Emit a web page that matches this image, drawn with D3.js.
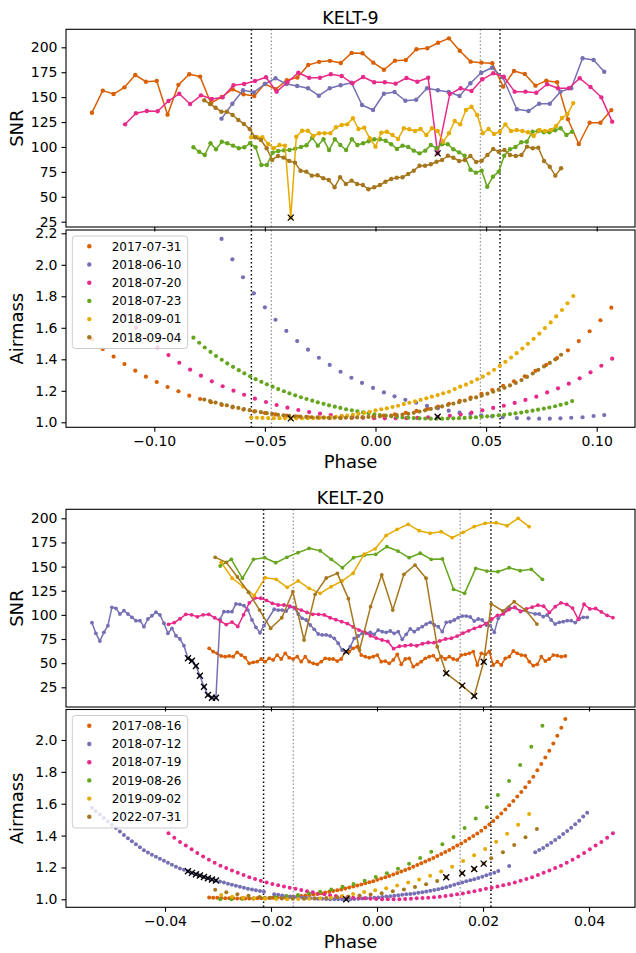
<!DOCTYPE html>
<html><head><meta charset="utf-8">
<script src="https://cdn.jsdelivr.net/npm/d3@7"></script>
<style>body{margin:0;background:#fff}svg{display:block}</style>
</head><body><svg id="c" width="636" height="953"></svg>
<script>
// ---------------- DATA ----------------
const colors = ["#d95f02","#7570b3","#e7298a","#66a61e","#e6ab02","#a6761d"];
const k9Dates = ["2017-07-31","2018-06-10","2018-07-20","2018-07-23","2018-09-01","2018-09-04"];
const k20Dates = ["2017-08-16","2018-07-12","2018-07-19","2019-08-26","2019-09-02","2022-07-31"];

const k9PhaseTicks = [-0.10,-0.05,0.00,0.05,0.10];
const k20PhaseTicks = [-0.04,-0.02,0.00,0.02,0.04];
const snrTicks = [25,50,75,100,125,150,175,200];
const k9AirmassTicks = [1.0,1.2,1.4,1.6,1.8,2.0,2.2];
const k20AirmassTicks = [1.0,1.2,1.4,1.6,1.8,2.0];

const k9ContactOuter = [-0.0561,0.0563];
const k9ContactInner = [-0.0471,0.0474];
const k20ContactOuter = [-0.0214,0.0215];
const k20ContactInner = [-0.0158,0.0157];

// KELT-9
const k9_20170731_phase = [-0.1282,-0.1233,-0.1184,-0.1135,-0.1086,-0.1038,-0.0989,-0.0940,-0.0891,-0.0842,-0.0793,-0.0744,-0.0695,-0.0646,-0.0597,-0.0548,-0.0500,-0.0451,-0.0401,-0.0353,-0.0304,-0.0255,-0.0206,-0.0157,-0.0108,-0.0059,-0.0010,0.0038,0.0088,0.0137,0.0185,0.0234,0.0283,0.0332,0.0381,0.0430,0.0479,0.0528,0.0577,0.0626,0.0675,0.0723,0.0772,0.0821,0.0870,0.0919,0.0968,0.1017,0.1066];
const k9_20170731_snr = [134.4,156.5,153.1,159.8,172.2,165.5,166.2,132.4,162.3,173.0,170.6,143.9,150.2,157.9,152.9,151.2,163.3,157.9,167.0,169.7,182.3,185.4,186.4,184.3,194.4,194.0,184.6,177.5,186.6,187.3,198.0,199.0,204.6,209.0,196.6,185.6,184.6,184.0,160.5,176.2,173.2,161.5,166.5,164.9,127.8,103.0,124.3,124.3,137.0];
const k9_20170731_airmass = [1.527,1.465,1.417,1.370,1.328,1.290,1.256,1.224,1.197,1.169,1.148,1.128,1.110,1.095,1.081,1.069,1.059,1.050,1.042,1.036,1.032,1.029,1.027,1.027,1.028,1.031,1.036,1.042,1.050,1.060,1.072,1.085,1.100,1.117,1.136,1.157,1.180,1.205,1.231,1.260,1.292,1.327,1.365,1.408,1.457,1.516,1.578,1.648,1.728];
const k9_20170731_flag = [];

const k9_20180610_phase = [-0.0696,-0.0647,-0.0599,-0.0550,-0.0500,-0.0452,-0.0403,-0.0354,-0.0305,-0.0256,-0.0207,-0.0158,-0.0109,-0.0061,-0.0011,0.0038,0.0086,0.0135,0.0184,0.0233,0.0282,0.0331,0.0380,0.0429,0.0478,0.0527,0.0575,0.0639,0.0692,0.0740,0.0788,0.0836,0.0885,0.0936,0.0986,0.1034];
const k9_20180610_snr = [128.4,143.4,156.9,154.8,163.2,168.9,163.2,161.2,158.9,151.4,158.9,161.9,164.5,142.1,137.1,153.4,155.1,146.4,147.4,158.9,156.9,155.1,151.1,163.9,174.5,179.5,170.0,137.8,136.1,143.4,143.4,155.5,158.9,189.0,187.3,175.5];
const k9_20180610_airmass = [2.164,2.035,1.921,1.819,1.730,1.651,1.580,1.516,1.461,1.410,1.364,1.321,1.283,1.250,1.218,1.190,1.165,1.143,1.124,1.105,1.089,1.074,1.061,1.053,1.044,1.038,1.032,1.027,1.025,1.023,1.023,1.025,1.029,1.032,1.040,1.046];
const k9_20180610_flag = [];

const k9_20180720_phase = [-0.1132,-0.1083,-0.1034,-0.0985,-0.0936,-0.0887,-0.0838,-0.0789,-0.0740,-0.0691,-0.0642,-0.0594,-0.0545,-0.0495,-0.0447,-0.0398,-0.0349,-0.0300,-0.0251,-0.0202,-0.0153,-0.0104,-0.0056,-0.0006,0.0042,0.0091,0.0140,0.0189,0.0238,0.0281,0.0336,0.0385,0.0434,0.0483,0.0532,0.0580,0.0629,0.0678,0.0727,0.0776,0.0825,0.0874,0.0923,0.0972,0.1021,0.1070];
const k9_20180720_snr = [122.7,133.8,136.1,135.8,146.1,153.4,143.1,151.8,148.1,149.8,161.9,163.2,166.2,169.9,155.5,164.9,174.5,169.5,169.5,172.9,171.2,163.9,170.2,164.9,164.9,163.5,169.2,165.5,169.5,93.6,153.1,158.9,156.2,167.9,173.9,170.5,155.5,155.5,154.4,162.9,158.9,158.9,168.9,160.2,149.8,125.4];
const k9_20180720_airmass = [1.677,1.601,1.533,1.476,1.427,1.378,1.334,1.296,1.260,1.229,1.201,1.175,1.150,1.129,1.110,1.093,1.078,1.065,1.055,1.046,1.039,1.033,1.029,1.026,1.025,1.025,1.026,1.028,1.031,1.035,1.041,1.049,1.061,1.076,1.091,1.105,1.123,1.142,1.163,1.190,1.216,1.245,1.279,1.317,1.359,1.404];
const k9_20180720_flag = [29];

const k9_20180723_phase = [-0.0823,-0.0797,-0.0772,-0.0746,-0.0721,-0.0695,-0.0670,-0.0644,-0.0618,-0.0593,-0.0567,-0.0542,-0.0516,-0.0491,-0.0465,-0.0440,-0.0414,-0.0389,-0.0363,-0.0337,-0.0312,-0.0286,-0.0261,-0.0235,-0.0210,-0.0184,-0.0159,-0.0133,-0.0107,-0.0082,-0.0056,-0.0031,-0.0005,0.0020,0.0046,0.0071,0.0097,0.0122,0.0148,0.0173,0.0199,0.0225,0.0250,0.0276,0.0301,0.0327,0.0352,0.0378,0.0403,0.0429,0.0454,0.0480,0.0505,0.0531,0.0557,0.0582,0.0608,0.0633,0.0659,0.0684,0.0710,0.0735,0.0761,0.0786,0.0812,0.0837,0.0863,0.0889];
const k9_20180723_snr = [99.7,95.2,91.9,103.7,97.7,105.3,103.7,101.3,98.7,99.7,103.7,99.7,81.9,81.9,94.2,95.9,96.6,96.9,98.3,100.0,101.7,109.3,101.3,107.7,96.9,107.7,102.0,96.9,107.7,102.0,103.7,105.7,107.7,107.7,106.3,102.7,98.0,101.3,100.0,96.3,93.6,96.3,102.0,98.7,102.7,102.7,97.7,94.6,91.2,77.2,74.2,76.2,60.1,70.2,75.2,91.2,97.7,100.0,104.7,105.3,115.3,116.0,114.7,114.7,116.7,118.7,112.0,115.3];
const k9_20180723_airmass = [1.537,1.505,1.475,1.447,1.421,1.397,1.374,1.352,1.331,1.311,1.292,1.274,1.257,1.241,1.226,1.211,1.197,1.184,1.171,1.159,1.148,1.137,1.127,1.117,1.108,1.099,1.091,1.083,1.076,1.069,1.063,1.057,1.051,1.046,1.042,1.038,1.034,1.031,1.029,1.027,1.025,1.024,1.023,1.023,1.023,1.024,1.025,1.026,1.028,1.030,1.032,1.035,1.038,1.041,1.044,1.048,1.052,1.057,1.062,1.068,1.074,1.080,1.087,1.094,1.102,1.111,1.120,1.135];
const k9_20180723_flag = [];

const k9_20180901_phase = [-0.0562,-0.0536,-0.0511,-0.0485,-0.0460,-0.0434,-0.0409,-0.0383,-0.0358,-0.0332,-0.0306,-0.0281,-0.0255,-0.0230,-0.0204,-0.0179,-0.0153,-0.0128,-0.0102,-0.0077,-0.0051,-0.0026,0.0000,0.0026,0.0051,0.0077,0.0102,0.0128,0.0153,0.0179,0.0204,0.0230,0.0255,0.0281,0.0306,0.0332,0.0358,0.0383,0.0409,0.0434,0.0460,0.0485,0.0511,0.0536,0.0562,0.0587,0.0613,0.0638,0.0664,0.0689,0.0715,0.0741,0.0766,0.0792,0.0817,0.0843,0.0868,0.0894];
const k9_20180901_snr = [109.7,109.7,109.7,103.0,98.7,102.0,101.3,29.1,110.3,116.3,116.3,111.0,113.7,113.7,113.7,119.7,122.0,122.7,128.8,118.0,119.3,108.7,100.3,114.3,115.3,112.0,108.0,118.7,117.7,116.0,118.0,112.0,118.7,116.0,105.3,113.7,126.0,122.7,137.1,140.4,132.1,113.7,118.0,113.0,115.3,122.7,116.0,117.0,116.0,114.7,111.0,117.0,116.0,117.0,121.0,129.0,133.0,144.0];
const k9_20180901_airmass = [1.030,1.029,1.028,1.027,1.026,1.026,1.025,1.025,1.025,1.025,1.026,1.027,1.028,1.030,1.032,1.035,1.039,1.043,1.048,1.054,1.060,1.067,1.076,1.083,1.089,1.097,1.105,1.116,1.124,1.133,1.142,1.152,1.163,1.173,1.184,1.194,1.211,1.226,1.239,1.256,1.273,1.290,1.310,1.333,1.358,1.384,1.411,1.439,1.468,1.498,1.530,1.563,1.598,1.634,1.672,1.713,1.756,1.802];
const k9_20180901_flag = [7];

const k9_20180904_phase = [-0.0774,-0.0748,-0.0723,-0.0697,-0.0672,-0.0646,-0.0620,-0.0595,-0.0569,-0.0544,-0.0518,-0.0492,-0.0467,-0.0441,-0.0416,-0.0390,-0.0364,-0.0339,-0.0313,-0.0288,-0.0262,-0.0236,-0.0211,-0.0185,-0.0160,-0.0134,-0.0108,-0.0083,-0.0057,-0.0032,-0.0006,0.0020,0.0045,0.0071,0.0096,0.0122,0.0148,0.0173,0.0199,0.0224,0.0250,0.0276,0.0301,0.0327,0.0352,0.0378,0.0404,0.0429,0.0455,0.0480,0.0506,0.0532,0.0557,0.0583,0.0608,0.0634,0.0660,0.0685,0.0711,0.0736,0.0762,0.0788,0.0813,0.0839];
const k9_20180904_snr = [146.8,143.1,139.4,135.4,135.4,132.1,127.1,123.1,118.0,109.7,107.0,98.7,87.0,91.0,89.3,86.0,84.3,76.2,75.2,71.2,71.6,68.6,66.9,59.5,69.6,62.9,66.2,62.9,61.8,57.5,59.5,61.8,65.1,67.9,69.2,69.6,72.9,76.2,81.1,81.1,82.6,85.2,86.9,91.2,89.2,85.9,86.9,90.9,84.9,86.2,91.9,98.0,95.2,96.9,91.9,90.9,91.9,100.3,98.7,99.3,85.9,80.2,71.2,78.6];
const k9_20180904_airmass = [1.144,1.135,1.125,1.116,1.108,1.099,1.091,1.084,1.077,1.070,1.064,1.058,1.053,1.048,1.044,1.041,1.038,1.036,1.034,1.032,1.031,1.030,1.029,1.029,1.029,1.029,1.030,1.031,1.032,1.034,1.036,1.038,1.040,1.043,1.046,1.049,1.054,1.060,1.068,1.076,1.085,1.093,1.101,1.110,1.119,1.128,1.138,1.148,1.158,1.170,1.182,1.194,1.207,1.219,1.234,1.250,1.268,1.288,1.310,1.333,1.355,1.377,1.400,1.429];
const k9_20180904_flag = [];

// KELT-20
const k20_20170816_phase = [-0.03166,-0.03091,-0.03015,-0.02940,-0.02864,-0.02789,-0.02713,-0.02638,-0.02562,-0.02487,-0.02411,-0.02336,-0.02260,-0.02185,-0.02109,-0.02034,-0.01958,-0.01883,-0.01807,-0.01732,-0.01656,-0.01581,-0.01505,-0.01430,-0.01354,-0.01279,-0.01203,-0.01128,-0.01052,-0.00977,-0.00901,-0.00826,-0.00750,-0.00675,-0.00599,-0.00524,-0.00448,-0.00373,-0.00297,-0.00222,-0.00146,-0.00071,0.00005,0.00080,0.00156,0.00231,0.00307,0.00382,0.00458,0.00533,0.00609,0.00684,0.00760,0.00835,0.00911,0.00986,0.01062,0.01137,0.01213,0.01288,0.01364,0.01439,0.01515,0.01590,0.01666,0.01741,0.01817,0.01892,0.01968,0.02043,0.02119,0.02194,0.02270,0.02345,0.02421,0.02496,0.02572,0.02647,0.02723,0.02798,0.02874,0.02949,0.03025,0.03100,0.03176,0.03251,0.03327,0.03402,0.03478,0.03553];
const k20_20170816_snr = [65.4,61.9,60.2,57.4,56.7,57.4,56.7,61.2,58.4,55.7,49.8,50.9,51.5,54.3,51.5,55.0,53.3,58.4,54.3,60.2,55.7,54.3,56.7,51.5,56.7,51.5,49.8,48.8,51.5,55.0,54.3,54.3,52.2,54.3,61.9,61.9,65.4,67.0,58.4,56.7,55.7,56.7,58.4,51.5,52.2,49.8,53.3,59.1,48.8,54.3,55.0,46.4,48.8,51.5,55.0,56.7,57.7,53.3,56.7,54.3,56.7,54.3,53.3,58.4,59.1,60.2,61.9,48.1,60.2,59.1,61.9,48.1,51.5,48.1,55.0,56.7,62.6,60.2,58.4,57.7,51.5,47.4,48.8,56.7,52.2,54.3,58.4,57.7,56.7,57.4];
const k20_20170816_airmass = [1.012,1.010,1.009,1.008,1.007,1.006,1.006,1.005,1.005,1.005,1.005,1.005,1.006,1.006,1.007,1.008,1.009,1.010,1.011,1.012,1.014,1.016,1.018,1.021,1.024,1.027,1.030,1.034,1.038,1.042,1.047,1.052,1.057,1.062,1.068,1.074,1.080,1.086,1.093,1.100,1.107,1.114,1.122,1.130,1.138,1.147,1.156,1.165,1.174,1.184,1.194,1.204,1.215,1.226,1.237,1.248,1.260,1.272,1.284,1.297,1.310,1.323,1.337,1.351,1.366,1.381,1.397,1.413,1.430,1.450,1.470,1.492,1.515,1.539,1.564,1.590,1.617,1.645,1.674,1.704,1.736,1.770,1.810,1.849,1.890,1.933,1.978,2.026,2.077,2.132];
const k20_20170816_flag = [];

const k20_20180712_phase = [-0.05379,-0.05304,-0.05228,-0.05153,-0.05077,-0.05002,-0.04926,-0.04851,-0.04775,-0.04700,-0.04624,-0.04549,-0.04473,-0.04398,-0.04322,-0.04247,-0.04171,-0.04096,-0.04020,-0.03945,-0.03869,-0.03794,-0.03718,-0.03643,-0.03567,-0.03492,-0.03416,-0.03341,-0.03265,-0.03190,-0.03114,-0.03039,-0.02963,-0.02888,-0.02812,-0.02737,-0.02661,-0.02586,-0.02510,-0.02435,-0.02359,-0.02284,-0.02208,-0.02133,
-0.01940,-0.01864,-0.01789,-0.01713,-0.01638,-0.01562,-0.01487,-0.01411,-0.01336,-0.01260,-0.01185,-0.01109,-0.01034,-0.00958,-0.00883,-0.00807,-0.00732,-0.00656,-0.00581,-0.00505,-0.00430,-0.00354,-0.00279,-0.00203,-0.00128,-0.00052,0.00023,0.00099,0.00174,0.00250,0.00325,0.00401,0.00476,0.00552,0.00627,0.00703,0.00778,0.00854,0.00929,0.01005,0.01080,0.01156,0.01231,0.01307,0.01382,0.01458,0.01533,0.01609,0.01684,0.01760,0.01835,0.01911,0.01986,0.02062,0.02137,0.02213,0.02288,
0.02494,
0.02985,0.03060,0.03136,0.03211,0.03287,0.03362,0.03438,0.03513,0.03589,0.03664,0.03740,0.03815,0.03891,0.03966];
const k20_20180712_snr = [91.9,80.9,72.9,81.9,88.8,107.8,106.8,100.9,104.3,100.9,97.5,94.0,94.0,87.8,95.7,99.1,102.7,99.9,91.3,80.9,86.1,78.4,75.0,68.1,55.0,52.5,47.1,37.0,25.6,17.0,14.2,14.2,95.4,103.3,103.3,103.3,111.3,110.9,109.5,105.0,94.7,87.1,81.5,88.8,
105.8,105.0,105.0,104.0,108.5,107.4,100.9,96.4,94.7,89.5,85.0,80.2,79.2,79.2,78.1,75.7,70.6,63.6,61.9,67.0,75.7,78.1,80.9,80.9,81.9,79.9,84.3,82.6,81.9,83.3,80.9,82.6,74.7,79.9,85.4,82.6,85.4,87.8,90.5,92.3,89.5,87.8,82.6,92.3,92.9,94.7,97.1,98.8,98.8,97.8,93.6,95.7,94.7,89.5,88.8,81.9,96.4,
108.0,
101.0,100.9,98.1,99.9,94.7,90.5,92.3,93.0,94.0,94.0,92.0,96.0,97.5,97.5];
const k20_20180712_airmass = [1.575,1.553,1.532,1.510,1.488,1.468,1.447,1.425,1.404,1.383,1.364,1.345,1.326,1.308,1.294,1.280,1.267,1.254,1.242,1.229,1.217,1.204,1.194,1.185,1.176,1.166,1.157,1.149,1.140,1.132,1.124,1.118,1.111,1.105,1.098,1.092,1.085,1.079,1.072,1.067,1.062,1.057,1.052,1.047,
1.032,1.028,1.024,1.021,1.018,1.015,1.013,1.011,1.009,1.007,1.005,1.004,1.003,1.002,1.001,1.001,1.000,1.000,1.000,1.001,1.002,1.003,1.005,1.006,1.008,1.010,1.012,1.014,1.017,1.019,1.022,1.025,1.028,1.031,1.034,1.037,1.041,1.045,1.049,1.053,1.058,1.063,1.069,1.075,1.083,1.091,1.099,1.106,1.113,1.119,1.126,1.134,1.142,1.151,1.159,1.167,1.178,
1.209,
1.295,1.309,1.322,1.339,1.355,1.372,1.389,1.410,1.429,1.449,1.471,1.493,1.519,1.544];
const k20_20180712_flag = [24,25,26,27,28,29,30,31,62];

const k20_20180719_phase = [-0.03934,-0.03825,-0.03716,-0.03607,-0.03498,-0.03390,-0.03281,-0.03172,-0.03063,-0.02954,-0.02845,-0.02736,-0.02627,-0.02518,-0.02409,-0.02301,-0.02192,-0.02083,-0.01974,-0.01865,-0.01756,-0.01647,-0.01538,-0.01429,-0.01320,-0.01212,-0.01103,-0.00994,-0.00885,-0.00776,-0.00667,-0.00558,-0.00449,-0.00340,-0.00231,-0.00123,-0.00014,0.00095,0.00204,0.00313,0.00422,0.00531,0.00640,0.00749,0.00858,0.00966,0.01075,0.01184,0.01293,0.01402,0.01511,0.01620,0.01729,0.01838,0.01947,0.02055,0.02164,0.02273,0.02382,0.02491,0.02600,0.02709,0.02818,0.02927,0.03036,0.03144,0.03253,0.03362,0.03471,0.03580,0.03689,0.03798,0.03907,0.04016,0.04125,0.04233,0.04342,0.04451];
const k20_20180719_snr = [90.2,92.0,96.0,100.6,100.0,98.0,100.0,100.5,97.0,93.6,90.0,92.5,88.0,100.0,112.5,117.5,117.2,115.0,112.0,110.2,110.2,109.0,107.0,105.0,102.5,100.6,100.6,99.9,97.0,95.0,93.0,91.0,87.5,84.3,82.0,78.4,76.0,74.0,72.5,65.0,67.5,68.0,68.8,68.0,70.1,71.4,71.2,73.0,75.0,75.8,78.0,81.0,83.5,86.1,88.0,91.0,95.5,99.5,101.0,105.5,108.0,103.4,106.1,108.0,110.0,109.0,102.5,108.5,112.5,110.8,107.0,95.4,111.0,106.2,106.6,103.0,99.5,97.1];
const k20_20180719_airmass = [1.414,1.386,1.360,1.337,1.314,1.291,1.269,1.249,1.230,1.211,1.196,1.181,1.166,1.152,1.139,1.128,1.116,1.106,1.096,1.088,1.080,1.073,1.066,1.058,1.051,1.044,1.037,1.031,1.026,1.021,1.016,1.013,1.010,1.008,1.006,1.004,1.002,1.001,1.000,1.000,1.001,1.002,1.004,1.006,1.008,1.010,1.013,1.016,1.021,1.026,1.031,1.037,1.044,1.051,1.058,1.066,1.073,1.080,1.088,1.096,1.106,1.116,1.128,1.139,1.152,1.166,1.181,1.196,1.211,1.230,1.249,1.269,1.291,1.314,1.337,1.360,1.386,1.414];
const k20_20180719_flag = [];

const k20_20190826_phase = [-0.02958,-0.02749,-0.02539,-0.02330,-0.02120,-0.01910,-0.01701,-0.01491,-0.01281,-0.01072,-0.00862,-0.00652,-0.00443,-0.00233,-0.00024,0.00186,0.00396,0.00605,0.00815,0.01024,0.01234,0.01444,0.01653,0.01863,0.02073,0.02282,0.02492,0.02701,0.02911,0.03121];
const k20_20190826_snr = [150.6,157.5,137.9,157.5,159.2,154.0,159.6,164.4,168.9,166.4,157.5,148.8,159.2,162.0,162.7,170.6,166.1,159.2,163.8,157.5,157.9,126.5,122.3,148.2,145.4,144.7,148.8,145.7,147.2,136.8];
const k20_20190826_airmass = [1.001,1.001,1.003,1.005,1.008,1.013,1.019,1.027,1.037,1.048,1.062,1.079,1.096,1.117,1.140,1.163,1.192,1.223,1.259,1.299,1.345,1.391,1.448,1.508,1.578,1.655,1.743,1.843,1.958,2.090];
const k20_20190826_flag = [];

const k20_20190902_phase = [-0.02940,-0.02732,-0.02525,-0.02317,-0.02110,-0.01902,-0.01695,-0.01487,-0.01279,-0.01072,-0.00865,-0.00657,-0.00450,-0.00242,-0.00035,0.00173,0.00380,0.00588,0.00795,0.01003,0.01210,0.01418,0.01625,0.01833,0.02040,0.02248,0.02455,0.02663,0.02870];
const k20_20190902_snr = [154.4,137.9,129.2,119.9,138.5,136.8,128.5,135.1,127.5,122.3,129.2,135.1,143.1,162.9,168.4,182.3,188.6,193.8,187.2,184.5,186.1,179.9,185.5,191.3,194.8,195.4,192.3,200.0,191.3];
const k20_20190902_airmass = [1.027,1.016,1.010,1.006,1.003,1.002,1.001,1.002,1.004,1.007,1.010,1.020,1.034,1.046,1.057,1.070,1.086,1.106,1.125,1.148,1.175,1.205,1.240,1.276,1.316,1.361,1.411,1.468,1.535];
const k20_20190902_flag = [];

const k20_20220731_phase = [-0.03053,-0.02843,-0.02634,-0.02425,-0.02215,-0.02006,-0.01796,-0.01587,-0.01377,-0.01168,-0.00958,-0.00749,-0.00540,-0.00330,-0.00121,0.00089,0.00298,0.00508,0.00717,0.00926,0.01136,0.01306,0.01608,0.01834,0.02013,0.02155,0.02375,0.02589,0.02802,0.03017];
const k20_20220731_snr = [159.6,154.4,139.2,123.4,105.0,86.1,97.0,124.0,74.0,121.3,138.2,143.0,116.8,63.6,108.5,141.3,105.0,142.0,151.6,137.9,67.0,39.5,26.7,16.0,51.5,111.3,104.0,113.6,105.0,90.5];
const k20_20220731_airmass = [1.060,1.044,1.032,1.023,1.015,1.009,1.005,1.003,1.003,1.005,1.008,1.013,1.018,1.024,1.030,1.038,1.050,1.062,1.077,1.094,1.115,1.138,1.163,1.190,1.224,1.257,1.295,1.341,1.389,1.441];
const k20_20220731_flag = [21,22,23,24];

// ---------------- BUILD ----------------
const k9Series = [
  [k9_20170731_phase,k9_20170731_snr,k9_20170731_airmass,k9_20170731_flag],
  [k9_20180610_phase,k9_20180610_snr,k9_20180610_airmass,k9_20180610_flag],
  [k9_20180720_phase,k9_20180720_snr,k9_20180720_airmass,k9_20180720_flag],
  [k9_20180723_phase,k9_20180723_snr,k9_20180723_airmass,k9_20180723_flag],
  [k9_20180901_phase,k9_20180901_snr,k9_20180901_airmass,k9_20180901_flag],
  [k9_20180904_phase,k9_20180904_snr,k9_20180904_airmass,k9_20180904_flag]
].map((a,i)=>({name:k9Dates[i],color:colors[i],phase:a[0],snr:a[1],am:a[2],flag:a[3]}));
const k20Series = [
  [k20_20170816_phase,k20_20170816_snr,k20_20170816_airmass,k20_20170816_flag],
  [k20_20180712_phase,k20_20180712_snr,k20_20180712_airmass,k20_20180712_flag],
  [k20_20180719_phase,k20_20180719_snr,k20_20180719_airmass,k20_20180719_flag],
  [k20_20190826_phase,k20_20190826_snr,k20_20190826_airmass,k20_20190826_flag],
  [k20_20190902_phase,k20_20190902_snr,k20_20190902_airmass,k20_20190902_flag],
  [k20_20220731_phase,k20_20220731_snr,k20_20220731_airmass,k20_20220731_flag]
].map((a,i)=>({name:k20Dates[i],color:colors[i],phase:a[0],snr:a[1],am:a[2],flag:a[3]}));

// ---------------- DRAW ----------------
const FONT = "DejaVu Sans, sans-serif";
const svg = d3.select("#c");
svg.append("rect").attr("width",636).attr("height",953).attr("fill","#fff");
const L = 66, R = 635;

const x9 = d3.scaleLinear().domain([-0.1,0.1]).range([154.3,596.7]);
const x20 = d3.scaleLinear().domain([-0.04,0.04]).range([165,589]);
const phaseFmt = v => (v < -1e-9 ? "\u2212" : "") + Math.abs(v).toFixed(2);

let clipId = 0;
function drawPanel(o) {
  const g = svg.append("g");
  const id = "clip" + (clipId++);
  svg.append("clipPath").attr("id", id).append("rect")
    .attr("x", L).attr("y", o.top).attr("width", R - L).attr("height", o.bottom - o.top);
  const inner = g.append("g").attr("clip-path", `url(#${id})`);

  o.vOuter.forEach(v => inner.append("line").attr("x1", o.x(v)).attr("x2", o.x(v))
    .attr("y1", o.top).attr("y2", o.bottom).attr("stroke", "#000").attr("stroke-width", 1.5)
    .attr("stroke-dasharray", "1.5,2.5"));
  o.vInner.forEach(v => inner.append("line").attr("x1", o.x(v)).attr("x2", o.x(v))
    .attr("y1", o.top).attr("y2", o.bottom).attr("stroke", "#8c8c8c").attr("stroke-width", 1.2)
    .attr("stroke-dasharray", "1.5,2.2"));

  const flagged = [];
  o.series.forEach(s => {
    const pts = s.phase.map((p, i) => ({p, v: o.kind === "snr" ? s.snr[i] : s.am[i], i}));
    if (o.kind === "snr") {
      inner.append("path").datum(pts)
        .attr("d", d3.line().x(d => o.x(d.p)).y(d => o.y(d.v)))
        .attr("fill", "none").attr("stroke", s.color).attr("stroke-width", 1.5)
        .attr("stroke-linejoin", "round");
    }
    inner.selectAll(null).data(pts).join("circle")
      .attr("cx", d => o.x(d.p)).attr("cy", d => o.y(d.v)).attr("r", o.r)
      .attr("fill", s.color);
    s.flag.forEach(i => flagged.push(pts[i]));
  });
  inner.selectAll(null).data(flagged).join("path")
    .attr("transform", d => `translate(${o.x(d.p)},${o.y(d.v)})`)
    .attr("d", "M-3,-3L3,3M-3,3L3,-3").attr("stroke", "#000").attr("stroke-width", 1.3)
    .attr("fill", "none");

  g.append("rect").attr("x", L).attr("y", o.top).attr("width", R - L).attr("height", o.bottom - o.top)
    .attr("fill", "none").attr("stroke", "#000").attr("stroke-width", 1.1);

  const ya = g.append("g").attr("transform", `translate(${L},0)`)
    .call(d3.axisLeft(o.y).tickValues(o.yTicks).tickFormat(o.yFmt).tickSize(4.5).tickPadding(4));
  const xa = g.append("g").attr("transform", `translate(0,${o.bottom})`)
    .call(d3.axisBottom(o.x).tickValues(o.xTicks).tickFormat(o.xLabels ? phaseFmt : "").tickSize(4.5).tickPadding(4));
  [ya, xa].forEach(a => {
    a.select(".domain").remove();
    a.attr("font-size", 14).attr("font-family", FONT);
    a.selectAll("line").attr("stroke", "#000").attr("stroke-width", 1.1);
    a.selectAll("text").attr("fill", "#000");
  });

  g.append("text").attr("transform", `translate(22.5,${(o.top + o.bottom) / 2}) rotate(-90)`)
    .attr("text-anchor", "middle").attr("font-family", FONT).attr("font-size", 18)
    .attr("fill", "#000").text(o.ylabel);
  if (o.xLabels) {
    g.append("text").attr("x", (L + R) / 2).attr("y", o.bottom + 41)
      .attr("text-anchor", "middle").attr("font-family", FONT).attr("font-size", 18)
      .attr("fill", "#000").text("Phase");
  }
  if (o.legend) {
    const lg = g.append("g").attr("transform", `translate(72.3,${o.top + 6})`);
    lg.append("rect").attr("width", 115.4).attr("height", 112.5).attr("rx", 3)
      .attr("fill", "#fff").attr("fill-opacity", 0.8).attr("stroke", "#cccccc").attr("stroke-width", 1);
    o.series.forEach((s, i) => {
      const yy = 10.3 + i * 18.2;
      lg.append("circle").attr("cx", 17).attr("cy", yy).attr("r", 2.2).attr("fill", s.color);
      lg.append("text").attr("x", 39.4).attr("y", yy).attr("dy", "0.35em")
        .attr("font-family", FONT).attr("font-size", 12).attr("fill", "#000").text(s.name);
    });
  }
}

svg.append("text").attr("x", (L + R) / 2).attr("y", 23.5).attr("text-anchor", "middle")
  .attr("font-family", FONT).attr("font-size", 17.5).attr("fill", "#000").text("KELT-9");
svg.append("text").attr("x", (L + R) / 2).attr("y", 503.5).attr("text-anchor", "middle")
  .attr("font-family", FONT).attr("font-size", 17.5).attr("fill", "#000").text("KELT-20");

drawPanel({kind:"snr", series:k9Series, x:x9, top:29.3, bottom:227,
  y:d3.scaleLinear().domain([25,200]).range([221.7,47.3]), yTicks:snrTicks, yFmt:d3.format("d"),
  xTicks:k9PhaseTicks, xLabels:false, ylabel:"SNR", vOuter:k9ContactOuter, vInner:k9ContactInner, r:2.2});
drawPanel({kind:"am", series:k9Series, x:x9, top:230, bottom:427.3,
  y:d3.scaleLinear().domain([1.0,2.2]).range([422.3,233.3]), yTicks:k9AirmassTicks, yFmt:d3.format(".1f"),
  xTicks:k9PhaseTicks, xLabels:true, ylabel:"Airmass", vOuter:k9ContactOuter, vInner:k9ContactInner, r:2.1, legend:true});
drawPanel({kind:"snr", series:k20Series, x:x20, top:509.3, bottom:707,
  y:d3.scaleLinear().domain([25,200]).range([687.3,518.3]), yTicks:snrTicks, yFmt:d3.format("d"),
  xTicks:k20PhaseTicks, xLabels:false, ylabel:"SNR", vOuter:k20ContactOuter, vInner:k20ContactInner, r:1.9});
drawPanel({kind:"am", series:k20Series, x:x20, top:709.5, bottom:907.3,
  y:d3.scaleLinear().domain([1.0,2.0]).range([899.3,740]), yTicks:k20AirmassTicks, yFmt:d3.format(".1f"),
  xTicks:k20PhaseTicks, xLabels:true, ylabel:"Airmass", vOuter:k20ContactOuter, vInner:k20ContactInner, r:2.0, legend:true});
</script></body></html>
